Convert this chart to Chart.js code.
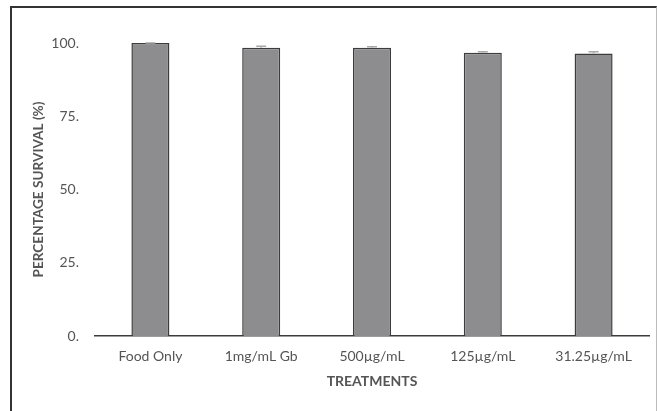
<!DOCTYPE html>
<html lang="en">
<head>
  <meta charset="UTF-8" />
  <title>Percentage Survival</title>
  <script src="https://cdn.jsdelivr.net/npm/chart.js"></script>
  <style>
    body { margin: 0; background: #fff; width: 657px; height: 411px; overflow: hidden; position: relative; }
    .frame {
      position: absolute; left: 10px; top: 6px; width: 644px; height: 420px;
      border-left: 2px solid #333; border-top: 2px solid #333; border-right: 1px solid #bbb;
    }
    .wrap { position: absolute; left: 0; top: 0; width: 657px; height: 411px; }
  </style>
</head>
<body>
  <div class="frame"></div>
  <div class="wrap"><canvas id="grafico" width="657" height="411"></canvas></div>

  <script>
    const categorias = ["Food Only", "1mg/mL Gb", "500\u00b5g/mL", "125\u00b5g/mL", "31.25\u00b5g/mL"];
    const sobrevivencia = [100, 98.4, 98.4, 96.7, 96.4];
    const erros = [0, 0.5, 0.3, 0.3, 0.6];
    const yTicks = [0, 25, 50, 75, 100];

    const cinza = "#555555";
    const fonte = "Lato";

    // barras de erro desenhadas por cima das barras
    const barrasErro = {
      id: "barrasErro",
      afterDatasetsDraw(chart) {
        const ctx = chart.ctx;
        const y = chart.scales.y;
        const meta = chart.getDatasetMeta(0);
        ctx.save();
        ctx.strokeStyle = "#a8a8a8";
        ctx.lineWidth = 1.5;
        meta.data.forEach((bar, i) => {
          const topo = y.getPixelForValue(sobrevivencia[i] + erros[i]);
          const base = y.getPixelForValue(sobrevivencia[i]);
          ctx.beginPath();
          ctx.moveTo(bar.x, base);
          ctx.lineTo(bar.x, topo);
          ctx.moveTo(bar.x - 5, topo);
          ctx.lineTo(bar.x + 5, topo);
          ctx.stroke();
        });
        ctx.restore();
      }
    };

    new Chart(document.getElementById("grafico"), {
      type: "bar",
      data: {
        labels: categorias,
        datasets: [{
          data: sobrevivencia,
          backgroundColor: "#8d8d90",
          borderColor: "#3c3c3c",
          borderWidth: 1.5,
          categoryPercentage: 1,
          barPercentage: 0.343
        }]
      },
      options: {
        responsive: false,
        animation: false,
        devicePixelRatio: 1,
        layout: { padding: { top: 43, right: 8, left: 0, bottom: 0 } },
        plugins: { legend: { display: false }, tooltip: { enabled: false } },
        scales: {
          x: {
            afterFit: s => { s.height = 75; },
            grid: { display: false, drawTicks: false },
            border: { display: true, color: "#3c3c3c", width: 1.5 },
            ticks: { color: cinza, font: { family: fonte, size: 14 }, padding: 12, maxRotation: 0 },
            title: { display: true, text: "TREATMENTS", color: cinza,
                     font: { family: fonte, size: 14, weight: "bold" }, padding: { bottom: 21 } }
          },
          y: {
            min: 0, max: 100,
            afterFit: s => { s.width = 95; },
            afterBuildTicks: s => { s.ticks = yTicks.map(v => ({ value: v })); },
            grid: { display: false, drawTicks: false },
            border: { display: false },
            ticks: { color: cinza, font: { family: fonte, size: 14 }, padding: 16,
                     callback: v => v + "." },
            title: { display: true, text: "PERCENTAGE SURVIVAL (%)", color: cinza,
                     font: { family: fonte, size: 13.6, weight: "bold" }, padding: { top: 30 } }
          }
        }
      },
      plugins: [barrasErro]
    });
  </script>
</body>
</html>
